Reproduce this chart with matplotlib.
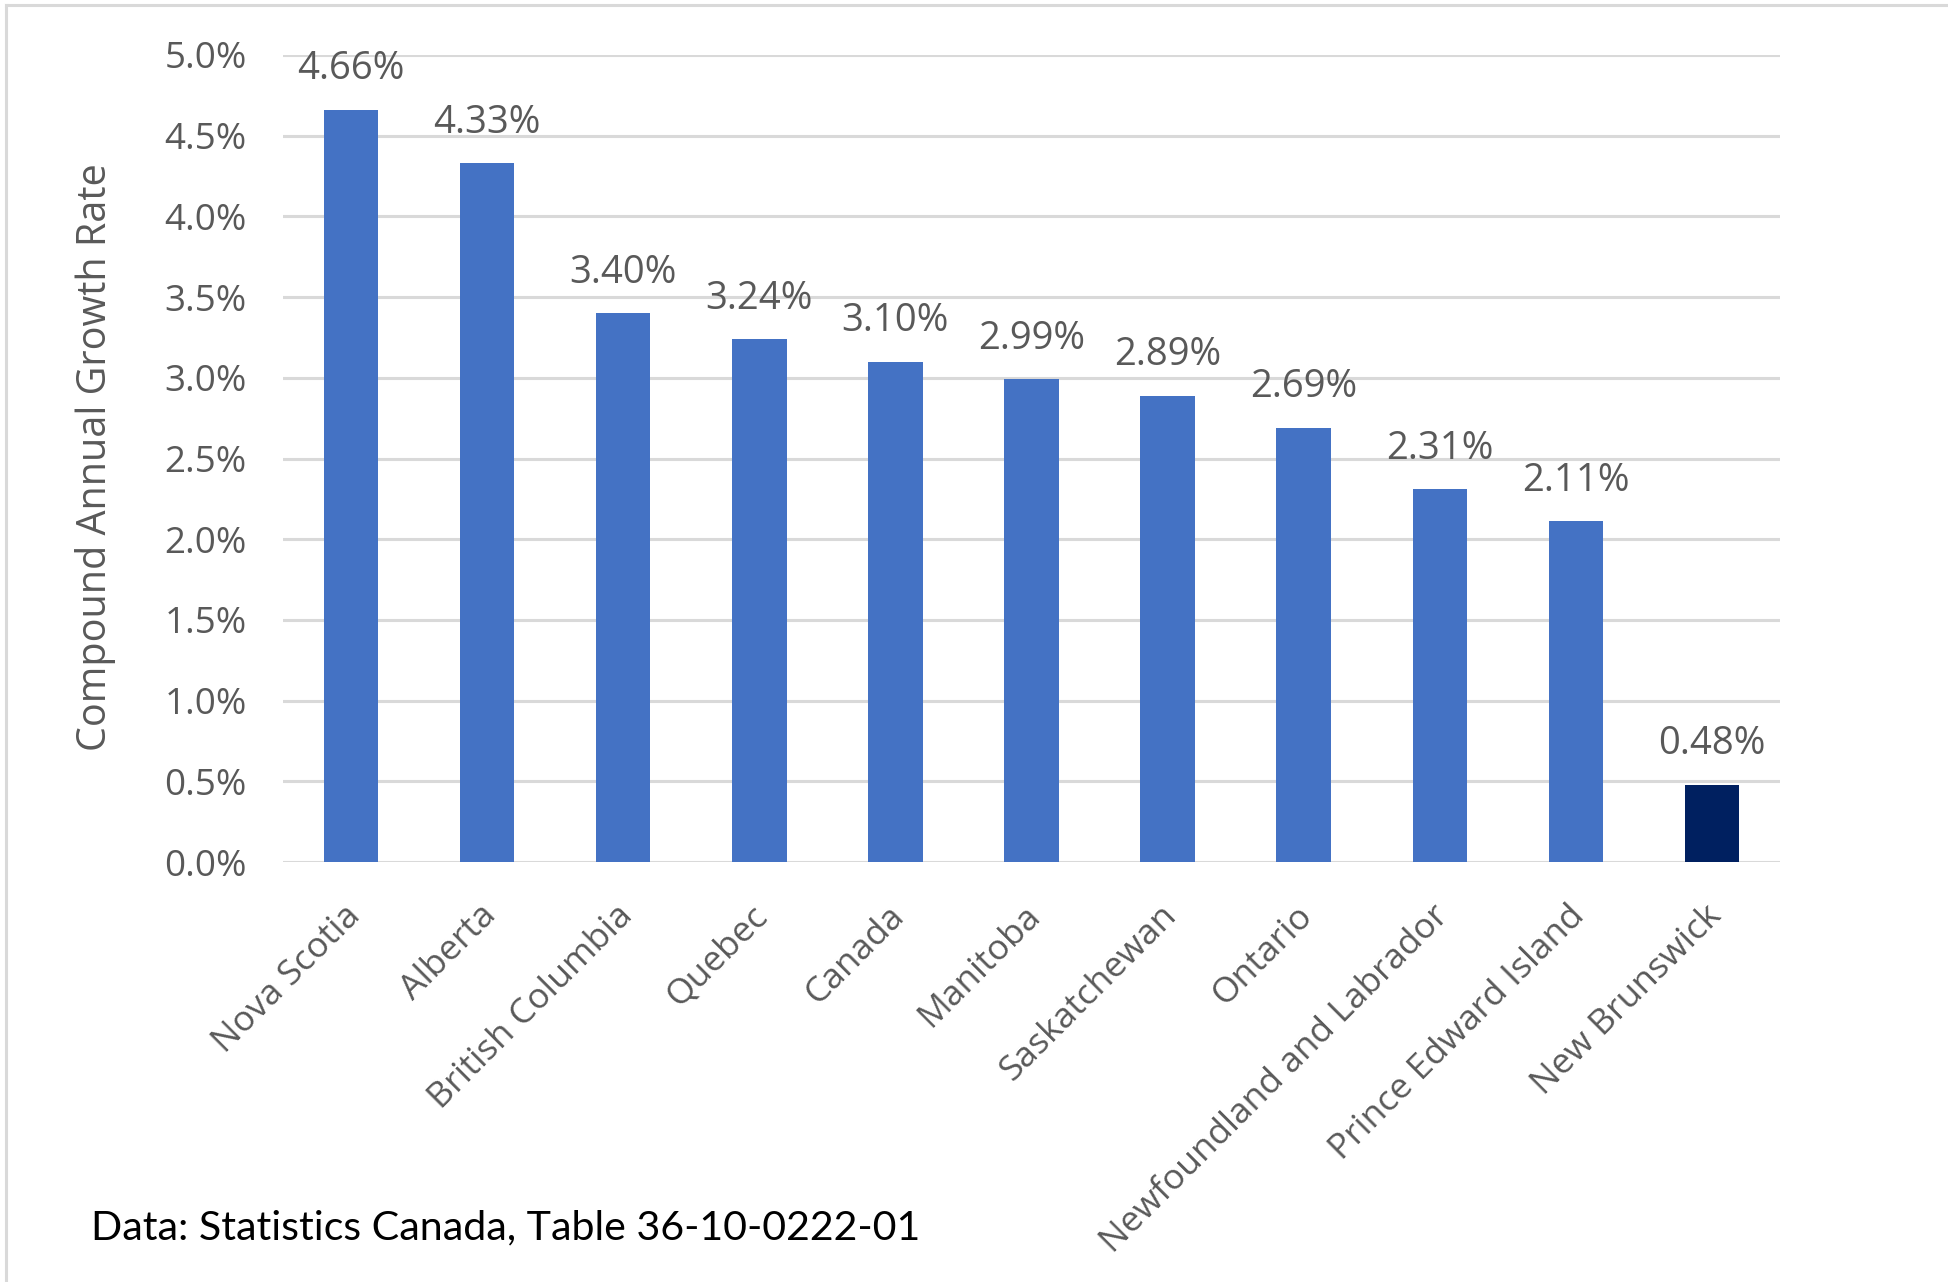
import matplotlib
matplotlib.use("Agg")
import matplotlib.pyplot as plt
import matplotlib.transforms as mtransforms
from matplotlib.lines import Line2D

categories = ["Nova Scotia", "Alberta", "British Columbia", "Quebec", "Canada",
              "Manitoba", "Saskatchewan", "Ontario", "Newfoundland and Labrador",
              "Prince Edward Island", "New Brunswick"]
values = [4.66, 4.33, 3.40, 3.24, 3.10, 2.99, 2.89, 2.69, 2.31, 2.11, 0.48]
yticks = [0.0, 0.5, 1.0, 1.5, 2.0, 2.5, 3.0, 3.5, 4.0, 4.5, 5.0]
ytick_labels = ["0.0%", "0.5%", "1.0%", "1.5%", "2.0%", "2.5%", "3.0%", "3.5%", "4.0%", "4.5%", "5.0%"]
ylabel = "Compound Annual Growth Rate"
source = "Data: Statistics Canada, Table 36-10-0222-01"

W, H = 1949, 1282
fig = plt.figure(figsize=(W / 100, H / 100), dpi=100)
fig.patch.set_facecolor("white")

left, right = 283 / W, 1780 / W
bottom, top = 1 - 862 / H, 1 - 55 / H
ax = fig.add_axes([left, bottom, right - left, top - bottom])

FONT = ["Open Sans", "DejaVu Sans"]
GRAY = "#595959"
colors = ["#4472C4"] * (len(values) - 1) + ["#002060"]

x = list(range(len(categories)))
bars = ax.bar(x, values, width=0.40, color=colors, zorder=3)

ax.set_xlim(-0.5, len(categories) - 0.5)
ax.set_ylim(0, 5.0)
ax.set_yticks(yticks)
ax.set_yticklabels(ytick_labels, fontfamily=FONT, fontsize=26.5, color=GRAY)
ax.yaxis.grid(True, color="#d9d9d9", linewidth=2.2, zorder=0)
ax.set_axisbelow(True)
for s in ax.spines.values():
    s.set_visible(False)
ax.tick_params(axis="y", length=0, pad=26)
ax.tick_params(axis="x", length=0, pad=35)

ax.set_xticks(x)
ax.set_xticklabels(categories, rotation=45, ha="right", va="center",
                   rotation_mode="anchor", fontfamily=FONT, fontsize=25.5, color=GRAY)
offset = mtransforms.ScaledTranslation(4 / 100, 0, fig.dpi_scale_trans)
for lbl in ax.get_xticklabels():
    lbl.set_transform(lbl.get_transform() + offset)

for xi, v in zip(x, values):
    ax.annotate(f"{v:.2f}%", (xi, v), xytext=(0, 22), textcoords="offset points",
                ha="center", va="baseline", fontfamily=FONT, fontsize=27.5, color=GRAY)

fig.text(96 / W, 1 - 457 / H, ylabel, rotation=90, ha="center", va="center",
         fontfamily=FONT, fontsize=28.5, color=GRAY)

fig.text(91 / W, 1 - 1228 / H, source, ha="left", va="center",
         fontfamily=["Lato", "DejaVu Sans"], fontsize=29.6, color="black")

# light frame at left and top
fig.add_artist(Line2D([6 / W, 6 / W], [0, 1 - 5 / H], transform=fig.transFigure,
                      color="#d9d9d9", linewidth=2.2))
fig.add_artist(Line2D([6 / W, 1], [1 - 5 / H, 1 - 5 / H], transform=fig.transFigure,
                      color="#d9d9d9", linewidth=2.2))

fig.savefig("out.png", dpi=100, facecolor="white")
